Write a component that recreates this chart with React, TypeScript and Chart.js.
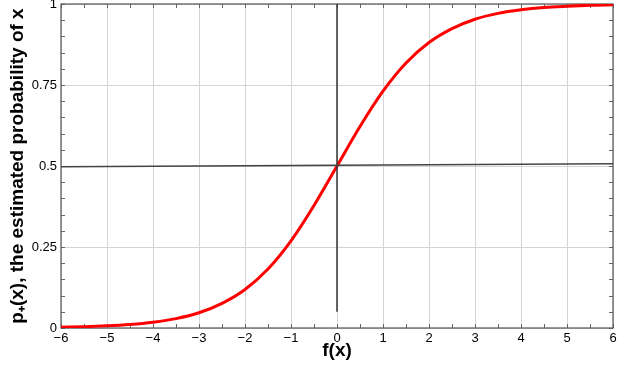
import React, { useEffect, useRef } from 'react';
import { Chart, registerables } from 'chart.js';

Chart.register(...registerables);

// Values
const fxValues = [-6, -5.5, -5, -4.5, -4, -3.5, -3, -2.5, -2, -1.5, -1, -0.5, 0, 0.5, 1, 1.5, 2, 2.5, 3, 3.5, 4, 4.5, 5, 5.5, 6];
const probValues = [0.0025, 0.004, 0.0067, 0.011, 0.018, 0.029, 0.047, 0.076, 0.119, 0.182, 0.269, 0.378, 0.5, 0.622, 0.731, 0.818, 0.881, 0.924, 0.953, 0.971, 0.982, 0.989, 0.993, 0.996, 0.9975];

const halfLineX = [-6, 6];
const halfLineY = [0.498, 0.507];
const zeroLineX = [0, 0];
const zeroLineY = [0.05, 1];

const yTickLabels = ['0', '0.25', '0.5', '0.75', '1'];
const xMinorStep = 0.5;
const yMinorStep = 0.05;

const FONT = '"Liberation Sans", Arial, Helvetica, sans-serif';

const framePlugin = {
  id: 'frameTicks',
  beforeDatasetsDraw(chart: any) {
    const { ctx, chartArea, scales } = chart;
    const { left, right, top, bottom } = chartArea;
    const xs = scales.x;
    const ys = scales.y;
    ctx.save();
    ctx.strokeStyle = '#666';
    ctx.lineWidth = 1;
    ctx.beginPath();
    const len = 4;
    for (let v = xs.min; v <= xs.max + 1e-9; v += xMinorStep) {
      const px = Math.round(xs.getPixelForValue(v)) + 0.5;
      ctx.moveTo(px, bottom);
      ctx.lineTo(px, bottom - len);
      ctx.moveTo(px, top);
      ctx.lineTo(px, top + len);
    }
    for (let v = ys.min; v <= ys.max + 1e-9; v += yMinorStep) {
      const py = Math.round(ys.getPixelForValue(v)) + 0.5;
      ctx.moveTo(left, py);
      ctx.lineTo(left + len, py);
      ctx.moveTo(right, py);
      ctx.lineTo(right - len, py);
    }
    ctx.stroke();
    ctx.strokeStyle = '#555';
    ctx.lineWidth = 1.2;
    ctx.strokeRect(left, top, right - left, bottom - top);
    ctx.restore();
  },
};

export default function App() {
  const ref = useRef<HTMLCanvasElement | null>(null);

  useEffect(() => {
    if (!ref.current) return;
    const curve = fxValues.map((x, i) => ({ x, y: probValues[i] }));
    const half = halfLineX.map((x, i) => ({ x, y: halfLineY[i] }));
    const zero = zeroLineX.map((x, i) => ({ x, y: zeroLineY[i] }));
    const chart = new Chart(ref.current, {
      type: 'scatter',
      data: {
        datasets: [
          { data: half, showLine: true, borderColor: '#444', borderWidth: 1.5, pointRadius: 0 },
          { data: zero, showLine: true, borderColor: '#333', borderWidth: 1.5, pointRadius: 0 },
          {
            data: curve,
            showLine: true,
            borderColor: '#ff0000',
            borderWidth: 3,
            pointRadius: 0,
            cubicInterpolationMode: 'monotone',
          },
        ],
      } as any,
      options: {
        animation: false,
        responsive: false,
        layout: { padding: { top: 4, right: 27, left: 0, bottom: 0 } },
        plugins: { legend: { display: false }, tooltip: { enabled: false } },
        scales: {
          x: {
            type: 'linear',
            min: -6,
            max: 6,
            ticks: {
              stepSize: 1,
              autoSkip: false,
              maxRotation: 0,
              color: '#000',
              padding: 3,
              font: { family: FONT, size: 13 },
              callback: (v: any) => String(v).replace('-', '\u2212'),
            },
            grid: { color: '#d4d4d4', drawTicks: false },
            border: { display: false },
            title: {
              display: true,
              text: 'f(x)',
              color: '#000',
              font: { family: FONT, size: 19, weight: 'bold' },
              padding: { top: 0, bottom: 8 },
            },
            afterFit: (s: any) => { s.height = 42; s.paddingLeft = 0; s.paddingRight = 0; },
          },
          y: {
            type: 'linear',
            min: 0,
            max: 1,
            ticks: {
              stepSize: 0.25,
              color: '#000',
              padding: 4,
              font: { family: FONT, size: 13 },
              callback: (_v: any, i: number) => yTickLabels[i],
            },
            grid: { color: '#d4d4d4', drawTicks: false },
            border: { display: false },
            title: {
              display: true,
              text: 'p\u208A(x), the estimated probability of x',
              color: '#000',
              font: { family: FONT, size: 19, weight: 'bold' },
              padding: { top: 6, bottom: 0 },
            },
            afterFit: (s: any) => { s.width = 61; s.paddingTop = 0; s.paddingBottom = 0; },
          },
        },
      } as any,
      plugins: [framePlugin],
    });
    return () => chart.destroy();
  }, []);

  return (
    <div style={{ position: 'absolute', left: 0, top: 0, width: 640, height: 370, background: '#fff' }}>
      <canvas ref={ref} width={640} height={370} />
    </div>
  );
}
